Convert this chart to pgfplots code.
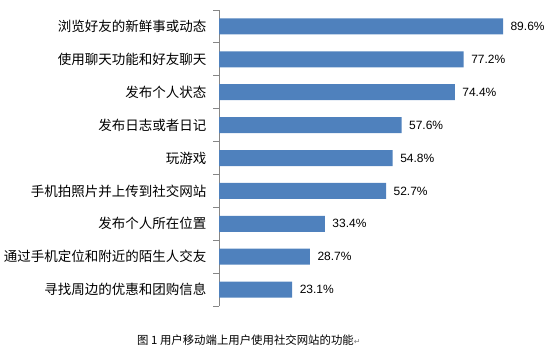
\documentclass[border=0pt]{standalone}
\usepackage{pgfplots}
\pgfplotsset{compat=1.18}
\usepackage{fontspec}
\setmainfont{Liberation Sans}
\newfontfamily\cjk{Noto Sans CJK SC}
\newfontfamily\dejavu{DejaVu Sans}
\definecolor{barblue}{HTML}{4F81BD}
\definecolor{axgray}{HTML}{868686}
\begin{document}
\begin{tikzpicture}
\path[use as bounding box] (0pt,0pt) rectangle (553pt,-351pt);
\begin{axis}[
  at={(219pt,-10pt)}, anchor=north west,
  scale only axis,
  width=317pt, height=296pt,
  clip=false,
  xbar, bar width=16pt,
  xmin=0, xmax=100,
  ymin=-0.5, ymax=8.5,
  y dir=reverse,
  axis lines*=left,
  x axis line style={draw=none},
  y axis line style={axgray, line width=0.8pt},
  xtick=\empty,
  ytick={0,1,2,3,4,5,6,7,8},
  yticklabels={浏览好友的新鲜事或动态,使用聊天功能和好友聊天,发布个人状态,发布日志或者日记,玩游戏,手机拍照片并上传到社交网站,发布个人所在位置,通过手机定位和附近的陌生人交友,寻找周边的优惠和团购信息},
  yticklabel style={font=\cjk\fontsize{13.5}{16}\selectfont, text=black, xshift=-9pt},
  major tick length=0pt,
  /pgf/number format/assume math mode=true,
  nodes near coords={\pgfmathprintnumber[fixed,precision=1,fixed zerofill,assume math mode=true]{\pgfplotspointmeta}\%},
  nodes near coords style={font=\fontsize{12}{14}\selectfont, text=black, xshift=4pt},
  point meta=x,
]
\addplot[fill=barblue, draw=none] coordinates {
(89.6,0) (77.2,1) (74.4,2) (57.6,3) (54.8,4) (52.7,5) (33.4,6) (28.7,7) (23.1,8)};
\pgfplotsinvokeforeach{-0.5,0.5,1.5,2.5,3.5,4.5,5.5,6.5,7.5,8.5}{
  \draw[axgray, line width=0.8pt] (axis cs:0,#1) -- ++(-6pt,0pt);
}
\end{axis}
\node[anchor=base west, inner sep=0pt, font=\cjk\fontsize{11.4}{13}\selectfont] at (137pt,-344pt) {图~1~用户移动端上用户使用社交网站的功能{\dejavu\fontsize{8}{10}\selectfont\color{gray}↵}};
\end{tikzpicture}
\end{document}
